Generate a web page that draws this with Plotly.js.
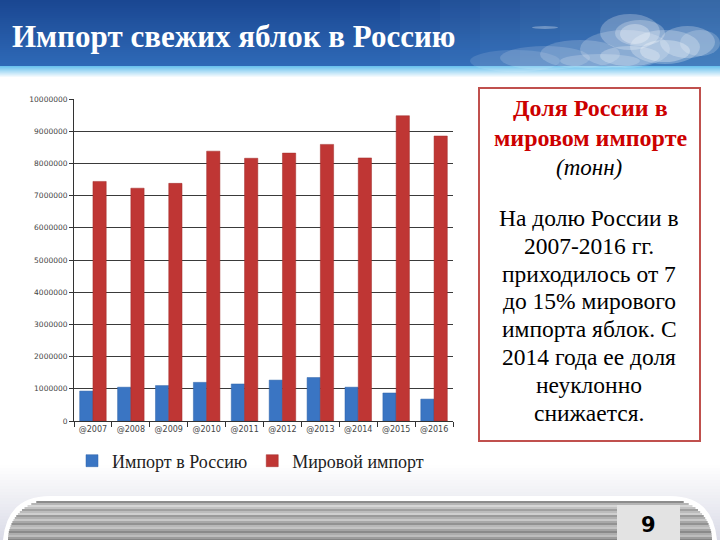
<!DOCTYPE html>
<html>
<head>
<meta charset="utf-8">
<script src="https://cdn.plot.ly/plotly-3.0.1.min.js"></script>
</head>
<body style="margin:0;padding:0;background:#fff">
<div id="chart" style="width:720px;height:540px"></div>
<script>
// ---- data ----
const years = ["@2007","@2008","@2009","@2010","@2011","@2012","@2013","@2014","@2015","@2016"];
const importRussia = [930000,1050000,1100000,1200000,1150000,1270000,1350000,1050000,870000,680000];
const worldImport = [7440000,7230000,7380000,8380000,8160000,8320000,8590000,8170000,9480000,8850000];
const seriesNames = ["Импорт в Россию","Мировой импорт"];
const yTicks = [0,1000000,2000000,3000000,4000000,5000000,6000000,7000000,8000000,9000000,10000000];
const pageTitle = "Импорт свежих яблок в Россию";
const boxTitleLines = ["Доля России в","мировом импорте"];
const boxUnit = "(тонн)";
const boxBody = ["На долю России в","2007-2016 гг.","приходилось от 7","до 15% мирового","импорта яблок. С","2014 года ее доля","неуклонно","снижается."];
const pageNumber = "9";

// ---- page-pixel -> paper helpers (plot area 74..453 x 99..421) ----
const PL = 74, PT = 99, PW = 379, PH = 322;
const px = x => (x - PL) / PW;
const py = y => (PT + PH - y) / PH;
function lerpColor(a, b, t){
  const pa = [1,3,5].map(i => parseInt(a.substr(i,2),16));
  const pb = [1,3,5].map(i => parseInt(b.substr(i,2),16));
  return "rgb(" + pa.map((v,i) => Math.round(v + (pb[i]-v)*t)).join(",") + ")";
}
function rectPx(x0,y0,x1,y1,fill){
  return {type:"rect", xref:"paper", yref:"paper", layer:"below",
    x0:px(x0), x1:px(x1), y0:py(y1), y1:py(y0), fillcolor:fill, line:{width:0}};
}
function pathPx(cmds, fill){
  const s = cmds.map(c => c[0] + " " + c.slice(1).map((v,i) => i%2===0 ? px(v) : py(v)).join(" ")).join(" ");
  return {type:"path", xref:"paper", yref:"paper", layer:"below", path:s.trim(),
    fillcolor:fill, line:{width:0}};
}

const deco = [];
{
  // header gradient
  for (let y = 0; y < 67; y += 2) {
    deco.push(rectPx(0, y, 720, y + 2.2, lerpColor("#1a4792", "#2f6ab8", y / 66)));
  }
  // slightly lighter right side of header
  for (let i = 0; i < 8; i++) {
    deco.push(rectPx(400 + i*40, 0, 720, 67, "rgba(120,170,225,0.05)"));
  }
  // light strip under header
  for (let y = 66; y < 78; y += 1) {
    deco.push(rectPx(0, y, 720, y + 1.2, lerpColor("#6cc2ee", "#ffffff", (y - 66) / 11)));
  }
  // soft clouds
  const clouds = [[470,50,560,72,0.12],[500,46,590,70,0.15],[540,40,620,68,0.18],[580,30,670,68,0.2],
                  [600,14,660,50,0.25],[615,20,665,46,0.25],[630,30,700,64,0.25],[660,26,715,58,0.25],
                  [680,30,720,56,0.2],[560,54,640,68,0.2],[600,46,660,66,0.25],[640,40,690,62,0.3],
                  [532,26,558,29,0.3],[620,24,650,44,0.3]];
  clouds.forEach(c => deco.push({type:"circle", xref:"paper", yref:"paper", layer:"below",
    x0:px(c[0]), x1:px(c[2]), y0:py(c[3]), y1:py(c[1]),
    fillcolor:"rgba(255,255,255,"+c[4]+")", line:{width:0}}));
  // footer glow
  for (let y = 462; y < 540; y += 3) {
    deco.push(rectPx(0, y, 720, y + 3.2, lerpColor("#ffffff", "#d9dae6", (y - 462) / 78)));
  }
  // footer white rim
  deco.push(pathPx([["M",3,540],["Q",7,496,50,496],["L",670,496],["Q",713,496,717,540],["Z"]], "#ffffff"));
  // footer metal bands
  const bandGrays = ["#8c8c8c","#b5b5b5","#d6d6d6","#c2c2c2","#a0a0a0","#bcbcbc","#cfcfcf","#9a9a9a",
                     "#b0b0b0","#c8c8c8","#a8a8a8","#929292","#b8b8b8","#c4c4c4","#a4a4a4","#8a8a8a",
                     "#adadad","#bdbdbd","#9c9c9c","#858585"];
  const bandTop = 501, cornerCy = 541, cornerRx = 42, cornerRy = 40;
  bandGrays.forEach((g, i) => {
    const y0 = bandTop + i * 2, y1 = y0 + 2.2;
    const dy = Math.min(1, (cornerCy - y1) / cornerRy);
    const off = cornerRx * Math.sqrt(Math.max(0, 1 - dy * dy));
    deco.push(rectPx(50 - off, y0, 670 + off, y1, g));
  });
  // page number box
  deco.push(rectPx(617, 505, 680, 540, "#e3e3e3"));
}

// ---- traces ----
const traces = [
  {type:"bar", name:seriesNames[0], x:years, y:importRussia,
   marker:{color:"#3a75c3", line:{color:"#2f63a8", width:0.5}}},
  {type:"bar", name:seriesNames[1], x:years, y:worldImport,
   marker:{color:"#bf3634", line:{color:"#a02c2a", width:0.5}}}
];

const SERIF_FONT = "Times New Roman, Liberation Serif, serif";

const annotations = [
  {xref:"paper", yref:"paper", x:px(10), y:py(36), xanchor:"left", yanchor:"middle",
   text:"<b>"+pageTitle+"</b>", showarrow:false,
   font:{family:SERIF_FONT, size:31, color:"#ffffff"}},
  {xref:"paper", yref:"paper", x:px(589), y:py(167), xanchor:"center", yanchor:"middle",
   text:"<i>"+boxUnit+"</i>", showarrow:false,
   font:{family:SERIF_FONT, size:23, color:"#000000"}},
  {xref:"paper", yref:"paper", x:px(648), y:py(525), xanchor:"center", yanchor:"middle",
   text:"<b>"+pageNumber+"</b>", showarrow:false,
   font:{family:"DejaVu Sans", size:21, color:"#000000"}}
];
boxTitleLines.forEach((t, i) => annotations.push({
  xref:"paper", yref:"paper", x:px(590), y:py(108 + i * 30), xanchor:"center", yanchor:"middle",
  text:"<b>"+t+"</b>", showarrow:false, font:{family:SERIF_FONT, size:24, color:"#cc0000"}}));
boxBody.forEach((t, i) => annotations.push({
  xref:"paper", yref:"paper", x:px(589), y:py(218 + i * 27.8), xanchor:"center", yanchor:"middle",
  text:t, showarrow:false, font:{family:SERIF_FONT, size:23.5, color:"#000000"}}));

const layout = {
  width:720, height:540,
  font:{family:SERIF_FONT},
  margin:{l:PL, r:720-PL-PW, t:PT, b:540-PT-PH, pad:0},
  paper_bgcolor:"#ffffff", plot_bgcolor:"rgba(0,0,0,0)",
  barmode:"group", bargap:0.3, bargroupgap:0,
  showlegend:true,
  legend:{orientation:"h", x:px(72), y:py(461), xanchor:"left", yanchor:"middle",
          font:{family:SERIF_FONT, size:18, color:"#222"}, itemwidth:30, bgcolor:"rgba(0,0,0,0)"},
  xaxis:{type:"category", showgrid:false, showline:true, linecolor:"#333", linewidth:1,
         ticks:"outside", tickson:"boundaries", ticklen:5, tickcolor:"#333",
         tickfont:{family:"DejaVu Sans", size:8, color:"#444"}, fixedrange:true},
  yaxis:{range:[0,10000000], tickvals:yTicks, ticktext:yTicks.map(String),
         showgrid:true, gridcolor:"#3a3a3a", gridwidth:1,
         showline:true, linecolor:"#333", linewidth:1, ticks:"outside", ticklen:4, tickcolor:"#333",
         zeroline:false,
         tickfont:{family:"DejaVu Sans", size:7.5, color:"#444"}, fixedrange:true},
  shapes: deco.concat([
    {type:"rect", xref:"paper", yref:"paper", x0:px(479), x1:px(700),
     y0:py(441), y1:py(88), line:{color:"#c0504d", width:2}, fillcolor:"rgba(0,0,0,0)"}
  ]),
  annotations:annotations
};

Plotly.newPlot("chart", traces, layout, {displayModeBar:false, staticPlot:true});
</script>
</body>
</html>
